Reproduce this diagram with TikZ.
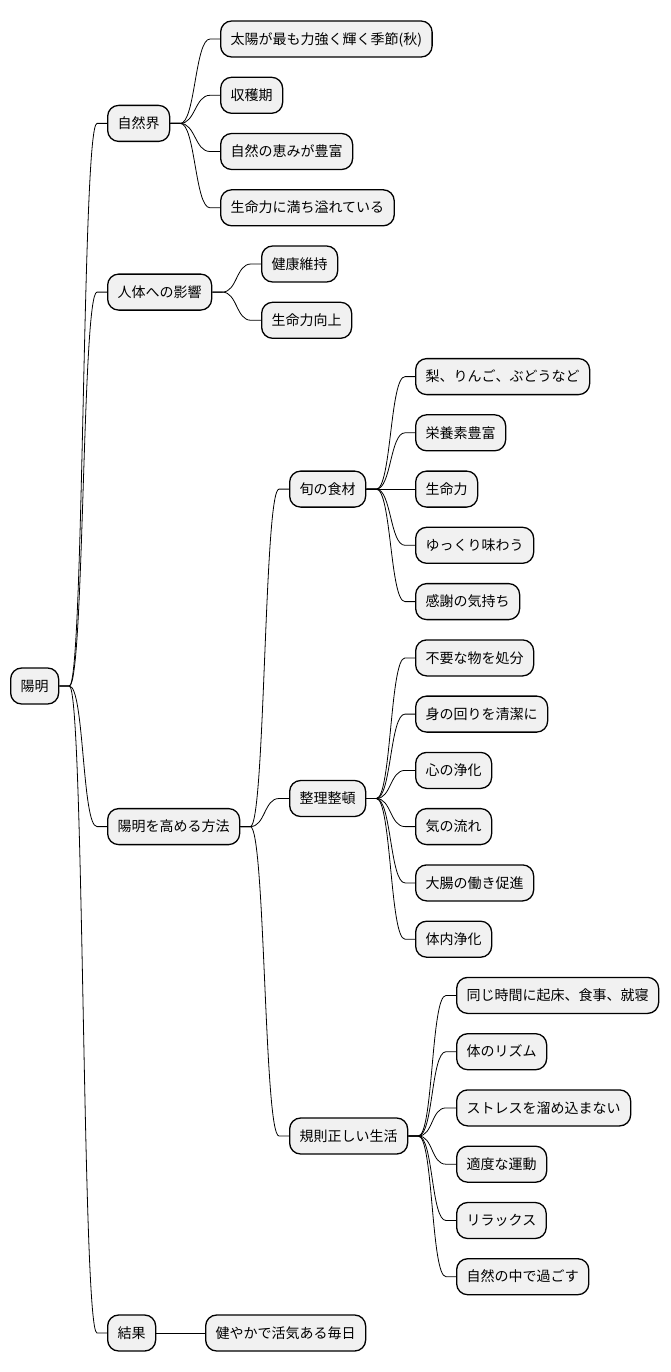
\documentclass[tikz,border=0pt]{standalone}
\usepackage{fontspec}
\newfontfamily\jp{Noto Sans CJK JP}
\usetikzlibrary{calc}
\definecolor{boxfill}{HTML}{F1F1F1}
\tikzset{
  box/.style={draw=black, line width=1.3pt, fill=boxfill, rounded corners=11pt,
    minimum height=36pt, inner xsep=10pt, inner ysep=0pt, anchor=west,
    font=\jp\fontsize{14pt}{16pt}\selectfont, text height=11.2pt, text depth=0.8pt},
  conn/.style={line width=0.8pt, black}
}
\newcommand\linkto[2]{\draw[conn] (#1.east) -- ++(10,0) .. controls +(15,0) and +(-15,0) .. ($(#2.west)+(-10,0)$) -- (#2.west);}
\begin{document}
\begin{tikzpicture}[x=1pt,y=-1pt]
\useasboundingbox (0,0) rectangle (670,1372);
% root
\node[box] (r) at (10,686) {陽明};
% level 1
\node[box] (a) at (107,123.4) {自然界};
\node[box] (b) at (107,292.1) {人体への影響};
\node[box] (c) at (107,826.6) {陽明を高める方法};
\node[box] (d) at (107,1333) {結果};
% level 2 under c
\node[box] (c1) at (289,489.1) {旬の食材};
\node[box] (c2) at (289,798.5) {整理整頓};
\node[box] (c3) at (289,1136) {規則正しい生活};
% leaves
\node[box] (a1) at (220,39.0) {太陽が最も力強く輝く季節(秋)};
\node[box] (a2) at (220,95.3) {収穫期};
\node[box] (a3) at (220,151.5) {自然の恵みが豊富};
\node[box] (a4) at (220,207.8) {生命力に満ち溢れている};
\node[box] (b1) at (261,264.0) {健康維持};
\node[box] (b2) at (261,320.3) {生命力向上};
\node[box] (c1a) at (415,376.6) {梨、りんご、ぶどうなど};
\node[box] (c1b) at (415,432.8) {栄養素豊富};
\node[box] (c1c) at (415,489.1) {生命力};
\node[box] (c1d) at (415,545.3) {ゆっくり味わう};
\node[box] (c1e) at (415,601.6) {感謝の気持ち};
\node[box] (c2a) at (415,657.9) {不要な物を処分};
\node[box] (c2b) at (415,714.1) {身の回りを清潔に};
\node[box] (c2c) at (415,770.4) {心の浄化};
\node[box] (c2d) at (415,826.6) {気の流れ};
\node[box] (c2e) at (415,882.9) {大腸の働き促進};
\node[box] (c2f) at (415,939.2) {体内浄化};
\node[box] (c3a) at (456,995.4) {同じ時間に起床、食事、就寝};
\node[box] (c3b) at (456,1051.7) {体のリズム};
\node[box] (c3c) at (456,1107.9) {ストレスを溜め込まない};
\node[box] (c3d) at (456,1164.2) {適度な運動};
\node[box] (c3e) at (456,1220.5) {リラックス};
\node[box] (c3f) at (456,1276.7) {自然の中で過ごす};
\node[box] (d1) at (205,1333) {健やかで活気ある毎日};
% connectors
\foreach \p/\c in {r/a, r/b, r/c, r/d, a/a1, a/a2, a/a3, a/a4, b/b1, b/b2,
  c/c1, c/c2, c/c3, c1/c1a, c1/c1b, c1/c1c, c1/c1d, c1/c1e,
  c2/c2a, c2/c2b, c2/c2c, c2/c2d, c2/c2e, c2/c2f,
  c3/c3a, c3/c3b, c3/c3c, c3/c3d, c3/c3e, c3/c3f, d/d1}{\linkto{\p}{\c}}
\end{tikzpicture}
\end{document}
